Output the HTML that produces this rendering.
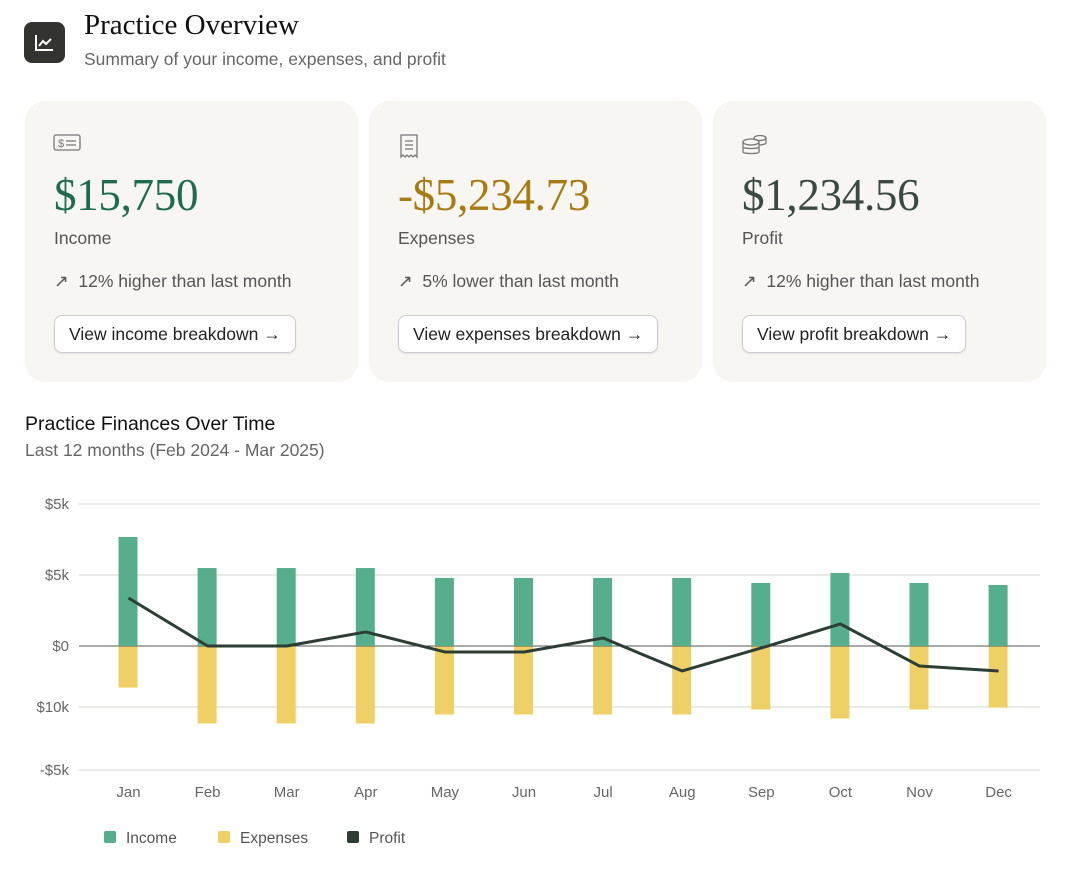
<!DOCTYPE html>
<html><head><meta charset="utf-8"><style>
*{box-sizing:border-box;margin:0;padding:0}
body{width:1068px;height:869px;background:#fff;font-family:"Liberation Sans",sans-serif;position:relative;overflow:hidden;color:#222}
.abs{position:absolute}
.card{position:absolute;top:101px;width:333px;height:281px;background:#f7f6f2;border-radius:20px}
.val{position:absolute;left:29px;top:68px;font-family:"Liberation Serif",serif;font-size:45px;letter-spacing:-0.3px}
.lbl{position:absolute;left:29px;top:127px;font-size:17.5px;color:#555}
.trend{position:absolute;left:29px;top:170px;font-size:17.5px;color:#555}
.btn{position:absolute;left:29px;top:214px;height:38px;border:1px solid #ccc;border-radius:8px;background:#fff;font-size:17.5px;color:#222;padding:0 14px;line-height:36px;box-shadow:0 1px 2px rgba(0,0,0,.08)}
.icon{position:absolute;left:28px;top:32px}
</style></head><body>
<div class="abs" style="left:24px;top:22px;width:41px;height:41px;background:#333330;border-radius:8px">
<svg width="41" height="41"><path d="M12 13v15h17" stroke="#fff" stroke-width="2" fill="none"/><path d="M15 24l4-5 3 3 5-5" stroke="#fff" stroke-width="2" fill="none"/></svg></div>
<div class="abs" style="left:84px;top:9px;font-family:'Liberation Serif',serif;font-size:29px;color:#111">Practice Overview</div>
<div class="abs" style="left:84px;top:49px;font-size:17.5px;color:#666">Summary of your income, expenses, and profit</div>

<div class="card" style="left:25px">
<svg class="icon" width="28" height="20"><rect x="1" y="2" width="26" height="15" rx="2" stroke="#777" fill="none" stroke-width="1.3"/><text x="5" y="14" font-size="11" fill="#777" font-family="Liberation Sans">$</text><path d="M13 8h10M13 12h10" stroke="#777" stroke-width="1.3"/></svg>
<div class="val" style="color:#1f6b4e">$15,750</div>
<div class="lbl">Income</div>
<div class="trend">↗&nbsp; 12% higher than last month</div>
<div class="btn">View income breakdown →</div></div>

<div class="card" style="left:369px">
<svg class="icon" width="24" height="26"><path d="M4 2h16v22l-2-2-2 2-2-2-2 2-2-2-2 2-2-2-2 2z" stroke="#777" fill="none" stroke-width="1.3"/><path d="M8 8h8M8 12h8M8 16h8" stroke="#777" stroke-width="1.3"/></svg>
<div class="val" style="color:#a87a12">-$5,234.73</div>
<div class="lbl">Expenses</div>
<div class="trend">↗&nbsp; 5% lower than last month</div>
<div class="btn">View expenses breakdown →</div></div>

<div class="card" style="left:713px">
<svg class="icon" width="28" height="24"><ellipse cx="10" cy="9" rx="8" ry="3" stroke="#777" fill="none" stroke-width="1.3"/><path d="M2 9v10c0 2 16 2 16 0V9M2 14c0 2 16 2 16 0" stroke="#777" fill="none" stroke-width="1.3"/><ellipse cx="19" cy="5" rx="6" ry="2.5" stroke="#777" fill="none" stroke-width="1.3"/><path d="M18 12c3 0 7-1 7-2V5" stroke="#777" fill="none" stroke-width="1.3"/></svg>
<div class="val" style="color:#3b4a40">$1,234.56</div>
<div class="lbl">Profit</div>
<div class="trend">↗&nbsp; 12% higher than last month</div>
<div class="btn">View profit breakdown →</div></div>

<div class="abs" style="left:25px;top:413px;font-size:19.5px;color:#111">Practice Finances Over Time</div>
<div class="abs" style="left:25px;top:440px;font-size:17.5px;color:#666">Last 12 months (Feb 2024 - Mar 2025)</div>

<svg class="abs" style="left:0;top:0" width="1068" height="869" id="chart"></svg>
<script>
const months=["Jan","Feb","Mar","Apr","May","Jun","Jul","Aug","Sep","Oct","Nov","Dec"];
const income=[7680,5490,5490,5490,4790,4790,4790,4790,4440,5140,4440,4300];
const expenses=[-2890,-5420,-5420,-5420,-4790,-4790,-4790,-4790,-4440,-5070,-4440,-4300];
const profit=[3380,0,0,990,-420,-420,560,-1760,-140,1550,-1410,-1760];
const tickValues=[10000,5000,0,-4300,-8730];
const tickLabels=["$5k","$5k","$0","$10k","-$5k"];
const svg=document.getElementById('chart');
const NS="http://www.w3.org/2000/svg";
function y(v){return 646-v*71/5000;}
function x(i){return 128.5+i*79.1;}
function mk(t,a){const e=document.createElementNS(NS,t);for(const k in a)e.setAttribute(k,a[k]);svg.appendChild(e);return e;}
tickValues.forEach((v,i)=>{
 const l=mk('line',{x1:79,x2:1040,y1:y(v),y2:y(v),stroke:v===0?'#555':'#e4e3de','stroke-width':v===0?1:1.5});
 
 
 const t=mk('text',{x:69,y:y(v)+5,'text-anchor':'end','font-size':15,fill:'#666','font-family':'Liberation Sans'});
 t.textContent=tickLabels[i];
 
 
});
months.forEach((m,i)=>{
 const b=mk('rect',{x:x(i)-10,y:y(income[i]),width:19,height:y(0)-y(income[i]),fill:'#57ae8c'});
 
 
 const e=mk('rect',{x:x(i)-10,y:y(0)+0.5,width:19,height:y(expenses[i])-y(0),fill:'#efd066'});
 
 
 const t=mk('text',{x:x(i),y:797,'text-anchor':'middle','font-size':15,fill:'#666','font-family':'Liberation Sans'});
 t.textContent=m;
 
 
});
const p=mk('polyline',{points:profit.map((v,i)=>x(i)+','+y(v)).join(' '),fill:'none',stroke:'#2d3e35','stroke-width':3,'stroke-linejoin':'round'});


const leg=[["Income","#57ae8c",104],["Expenses","#efd066",218],["Profit","#2d3e35",347]];
leg.forEach(l=>{
 const r=mk('rect',{x:l[2],y:831,width:12,height:12,rx:2,fill:l[1]});
 
 
 const t=mk('text',{x:l[2]+22,y:843,'font-size':15.5,fill:'#555','font-family':'Liberation Sans'});
 t.textContent=l[0];
 
 
});
</script>
</body></html>
